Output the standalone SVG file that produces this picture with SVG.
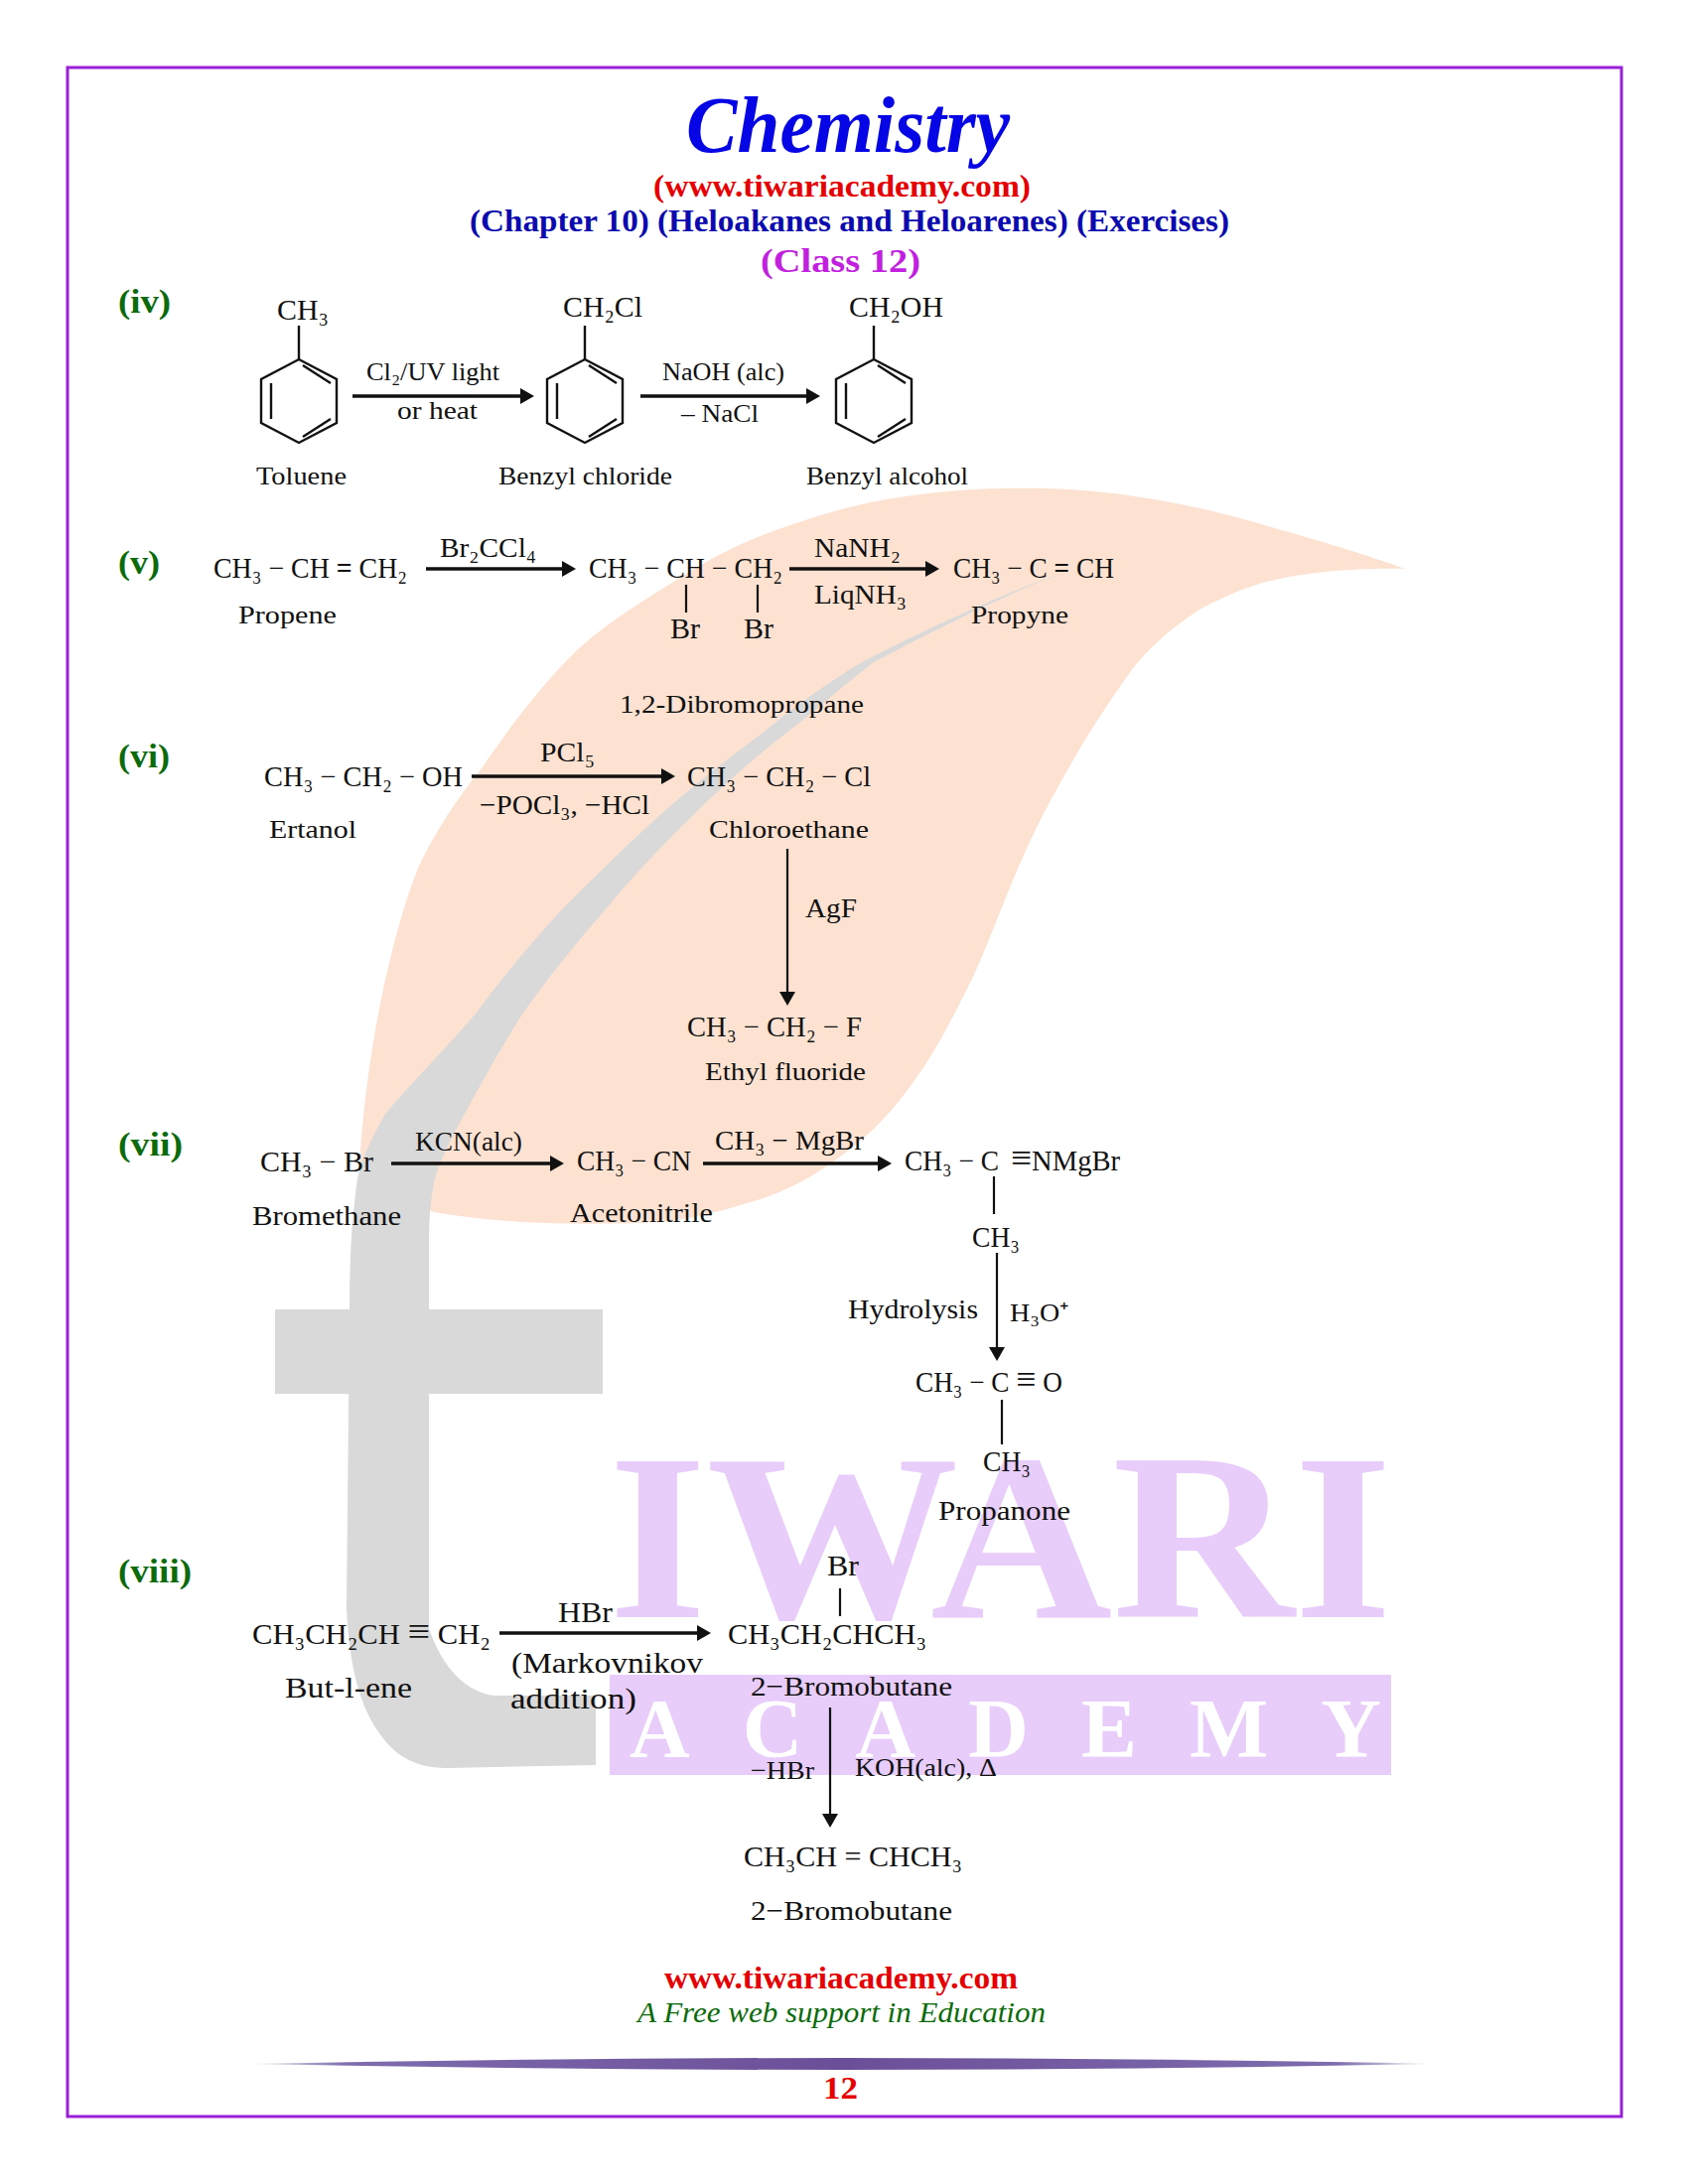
<svg xmlns="http://www.w3.org/2000/svg" width="1700" height="2200" viewBox="0 0 1700 2200">
<style>
text{font-family:"Liberation Serif","Times New Roman",serif;fill:#111}
.f{font-size:29px}
.l{font-size:26px}
.m{font-size:28px}
.sec{font-size:33px;font-weight:bold;fill:#0b6b0b}
.bond{stroke:#111;stroke-width:2.2;fill:none}
.ring{stroke:#111;stroke-width:2.4;fill:none;stroke-linejoin:miter}
.ah{stroke:#111;stroke-width:3.4;fill:none}
.av{stroke:#111;stroke-width:2.2;fill:none}
.wm{fill:#e8ccfa}
.tb{font-size:38px}
.db{font-weight:bold}
</style>
<defs>
<marker id="head" markerUnits="userSpaceOnUse" markerWidth="16" markerHeight="18" refX="6" refY="8" orient="auto"><path d="M0 0L14 8L0 16z" fill="#111"/></marker>
<linearGradient id="bar" x1="0" x2="1" y1="0" y2="0"><stop offset="0" stop-color="#8a7fa8" stop-opacity="0.2"/><stop offset="0.08" stop-color="#7f6cae"/><stop offset="0.5" stop-color="#6a4f98"/><stop offset="0.92" stop-color="#7f6cae"/><stop offset="1" stop-color="#8a7fa8" stop-opacity="0.2"/></linearGradient>
<g id="benzene"><path class="ring" d="M0 0L38 20V64L0 84L-38 64V20z"/><path class="ring" d="M4 6L32 24M-28 24V60M32 60L4 78M0 -34V0"/></g>
</defs>
<rect width="1700" height="2200" fill="#fff"/>
<g id="watermark">
<path d="M362 1178C365 1115 375 1050 384 1006C395 955 405 915 422 872C440 835 460 805 485 774C515 730 545 690 582 654C620 620 660 598 699 573C745 545 790 530 833 517C900 497 980 490 1055 492C1130 494 1210 510 1270 528C1330 545 1380 560 1415 573C1360 572 1310 577 1272 587C1245 595 1230 603 1210 613C1180 632 1160 650 1141 673C1125 695 1110 718 1096 740C1075 775 1055 810 1038 846C1015 895 1000 940 980 984C962 1020 945 1055 922 1087C900 1118 878 1142 849 1163C820 1185 790 1202 752 1212C715 1224 680 1231 640 1232C570 1234 500 1232 437 1221C410 1212 385 1198 362 1178z" fill="#fde2d2"/>
<path d="M1072 577C1030 590 950 625 868 667C830 690 800 712 767 739C725 770 690 798 657 828C625 857 595 887 565 917C535 950 505 985 480 1020C450 1055 415 1090 388 1122C375 1145 365 1165 360 1187C354 1230 352 1270 352 1320L349 1620C352 1680 362 1720 385 1750C400 1770 420 1781 450 1781L600 1778V1708H498C470 1705 445 1680 432 1640V1260C432 1230 433 1210 438 1187C445 1165 455 1145 468 1122C485 1090 505 1055 527 1020C552 985 580 950 609 917C635 885 662 857 691 828C722 797 755 767 791 739C820 717 850 690 880 667C950 630 1020 595 1072 577z" fill="#d9d9d9"/>
<rect x="277" y="1319" width="330" height="85" fill="#d9d9d9"/>
<text x="613" y="1629" font-size="240" font-weight="bold" textLength="789" lengthAdjust="spacingAndGlyphs" class="wm" style="fill:#e8ccfa">IWARI</text>
<rect class="wm" x="614" y="1687" width="787" height="101"/>
<text x="634" y="1770" font-size="84" font-weight="bold" textLength="757" lengthAdjust="spacing" style="fill:#fff">ACADEMY</text>
</g>
<rect id="border" x="68" y="68" width="1565" height="2064" fill="none" stroke="#9a1fd6" stroke-width="3"/>
<g id="header">
<text x="691" y="153" font-size="80" font-weight="bold" font-style="italic" textLength="326" lengthAdjust="spacingAndGlyphs" style="fill:#0505e6">Chemistry</text>
<text x="658" y="198" font-size="31" font-weight="bold" textLength="380" lengthAdjust="spacingAndGlyphs" style="fill:#e60000">(www.tiwariacademy.com)</text>
<text x="473" y="233" font-size="31" font-weight="bold" textLength="765" lengthAdjust="spacingAndGlyphs" style="fill:#0a0ab0">(Chapter 10) (Heloakanes and Heloarenes) (Exercises)</text>
<text x="766" y="274" font-size="34" font-weight="bold" textLength="161" lengthAdjust="spacingAndGlyphs" style="fill:#c21fe0">(Class 12)</text>
</g>
<g id="section-labels">
<text class="sec" x="119" y="315" textLength="53" lengthAdjust="spacingAndGlyphs">(iv)</text>
<text class="sec" x="119" y="578" textLength="42" lengthAdjust="spacingAndGlyphs">(v)</text>
<text class="sec" x="119" y="773" textLength="52" lengthAdjust="spacingAndGlyphs">(vi)</text>
<text class="sec" x="119" y="1164" textLength="65" lengthAdjust="spacingAndGlyphs">(vii)</text>
<text class="sec" x="119" y="1594" textLength="74" lengthAdjust="spacingAndGlyphs">(viii)</text>
</g>
<g id="connectors">
<path class="ah" marker-end="url(#head)" d="M355 399H530"/>
<path class="ah" marker-end="url(#head)" d="M645 399H818"/>
<path class="ah" marker-end="url(#head)" d="M429 573H572"/>
<path class="ah" marker-end="url(#head)" d="M795 573H938"/>
<path class="ah" marker-end="url(#head)" d="M475 782H672"/>
<path class="av" marker-end="url(#head)" d="M793 855V1005"/>
<path class="ah" marker-end="url(#head)" d="M394 1172H560"/>
<path class="ah" marker-end="url(#head)" d="M708 1172H890"/>
<path class="av" marker-end="url(#head)" d="M1004 1262V1363"/>
<path class="ah" marker-end="url(#head)" d="M503 1645H708"/>
<path class="av" marker-end="url(#head)" d="M836 1720V1833"/>
</g>
<g id="toluene"><use href="#benzene" x="301" y="362"/><text class="f" x="279" y="322" textLength="52" lengthAdjust="spacingAndGlyphs">CH₃</text><text class="l" x="258" y="488" textLength="91" lengthAdjust="spacingAndGlyphs">Toluene</text></g>
<g id="benzyl-chloride"><use href="#benzene" x="589" y="362"/><text class="f" x="567" y="319" textLength="80" lengthAdjust="spacingAndGlyphs">CH₂Cl</text><text class="l" x="502" y="488" textLength="175" lengthAdjust="spacingAndGlyphs">Benzyl chloride</text></g>
<g id="benzyl-alcohol"><use href="#benzene" x="880" y="362"/><text class="f" x="855" y="319" textLength="95" lengthAdjust="spacingAndGlyphs">CH₂OH</text><text class="l" x="812" y="488" textLength="163" lengthAdjust="spacingAndGlyphs">Benzyl alcohol</text></g>
<g id="iv-labels">
<text class="l" x="369" y="383" textLength="134" lengthAdjust="spacingAndGlyphs">Cl₂/UV light</text>
<text class="l" x="400" y="422" textLength="81" lengthAdjust="spacingAndGlyphs">or heat</text>
<text class="l" x="667" y="383" textLength="123" lengthAdjust="spacingAndGlyphs">NaOH (alc)</text>
<text class="l" x="686" y="425" textLength="78" lengthAdjust="spacingAndGlyphs">– NaCl</text>
</g>
<g id="propene"><text class="f" x="215" y="582" textLength="195" lengthAdjust="spacingAndGlyphs">CH₃ − CH <tspan class="db">=</tspan> CH₂</text><text class="l" x="240" y="628" textLength="99" lengthAdjust="spacingAndGlyphs">Propene</text></g>
<g id="dibromopropane"><text class="f" x="593" y="582" textLength="195" lengthAdjust="spacingAndGlyphs">CH₃ − CH − CH₂</text><path class="bond" d="M691 589V617M763 589V617"/><text class="f" x="675" y="643" textLength="30" lengthAdjust="spacingAndGlyphs">Br</text><text class="f" x="749" y="643" textLength="30" lengthAdjust="spacingAndGlyphs">Br</text><text class="l" x="624" y="718" textLength="246" lengthAdjust="spacingAndGlyphs">1,2-Dibromopropane</text></g>
<g id="propyne"><text class="f" x="960" y="582" textLength="162" lengthAdjust="spacingAndGlyphs">CH₃ − C <tspan class="db">=</tspan> CH</text><text class="l" x="978" y="628" textLength="98" lengthAdjust="spacingAndGlyphs">Propyne</text></g>
<g id="v-labels">
<text class="m" x="443" y="561" textLength="97" lengthAdjust="spacingAndGlyphs">Br₂CCl₄</text>
<text class="m" x="820" y="561" textLength="87" lengthAdjust="spacingAndGlyphs">NaNH₂</text>
<text class="m" x="820" y="608" textLength="93" lengthAdjust="spacingAndGlyphs">LiqNH₃</text>
</g>
<g id="ethanol"><text class="f" x="266" y="792" textLength="200" lengthAdjust="spacingAndGlyphs">CH₃ − CH₂ − OH</text><text class="l" x="271" y="844" textLength="88" lengthAdjust="spacingAndGlyphs">Ertanol</text></g>
<g id="chloroethane"><text class="f" x="692" y="792" textLength="185" lengthAdjust="spacingAndGlyphs">CH₃ − CH₂ − Cl</text><text class="l" x="714" y="844" textLength="161" lengthAdjust="spacingAndGlyphs">Chloroethane</text></g>
<g id="ethyl-fluoride"><text class="f" x="692" y="1044" textLength="176" lengthAdjust="spacingAndGlyphs">CH₃ − CH₂ − F</text><text class="l" x="710" y="1088" textLength="162" lengthAdjust="spacingAndGlyphs">Ethyl fluoride</text></g>
<g id="vi-labels">
<text class="m" x="544" y="767" textLength="55" lengthAdjust="spacingAndGlyphs">PCl₅</text>
<text class="m" x="483" y="820" textLength="171" lengthAdjust="spacingAndGlyphs">−POCl₃, −HCl</text>
<text class="m" x="811" y="924" textLength="52" lengthAdjust="spacingAndGlyphs">AgF</text>
</g>
<g id="bromomethane"><text class="f" x="262" y="1180" textLength="114" lengthAdjust="spacingAndGlyphs">CH₃ − Br</text><text class="m" x="254" y="1234" textLength="150" lengthAdjust="spacingAndGlyphs">Bromethane</text></g>
<g id="acetonitrile"><text class="f" x="581" y="1179" textLength="115" lengthAdjust="spacingAndGlyphs">CH₃ − CN</text><text class="m" x="574" y="1231" textLength="144" lengthAdjust="spacingAndGlyphs">Acetonitrile</text></g>
<g id="imine-salt"><text class="f" x="911" y="1179" textLength="95" lengthAdjust="spacingAndGlyphs">CH₃ − C</text><text class="f" x="1018" y="1179" textLength="110" lengthAdjust="spacingAndGlyphs"><tspan class="tb">≡</tspan>NMgBr</text><path class="bond" d="M1001 1185V1223"/><text class="f" x="979" y="1256" textLength="48" lengthAdjust="spacingAndGlyphs">CH₃</text></g>
<g id="propanone"><text class="f" x="922" y="1402" textLength="148" lengthAdjust="spacingAndGlyphs">CH₃ − C <tspan class="tb">≡</tspan> O</text><path class="bond" d="M1009 1410V1455"/><text class="f" x="990" y="1482" textLength="48" lengthAdjust="spacingAndGlyphs">CH₃</text><text class="m" x="945" y="1531" textLength="133" lengthAdjust="spacingAndGlyphs">Propanone</text></g>
<g id="vii-labels">
<text class="m" x="418" y="1159" textLength="108" lengthAdjust="spacingAndGlyphs">KCN(alc)</text>
<text class="m" x="720" y="1158" textLength="150" lengthAdjust="spacingAndGlyphs">CH₃ − MgBr</text>
<text class="m" x="854" y="1328" textLength="131" lengthAdjust="spacingAndGlyphs">Hydrolysis</text>
<text class="l" x="1017" y="1331" textLength="60" lengthAdjust="spacingAndGlyphs">H₃O⁺</text>
</g>
<g id="butene"><text class="f" x="254" y="1656" textLength="240" lengthAdjust="spacingAndGlyphs">CH₃CH₂CH <tspan class="tb">≡</tspan> CH₂</text><text class="f" x="287" y="1710" textLength="128" lengthAdjust="spacingAndGlyphs">But-l-ene</text></g>
<g id="bromobutane"><text class="f" x="833" y="1587" textLength="32" lengthAdjust="spacingAndGlyphs">Br</text><path class="bond" d="M846 1600V1628"/><text class="f" x="733" y="1656" textLength="200" lengthAdjust="spacingAndGlyphs">CH₃CH₂CHCH₃</text><text class="m" x="756" y="1708" textLength="203" lengthAdjust="spacingAndGlyphs">2−Bromobutane</text></g>
<g id="butene-2"><text class="f" x="749" y="1880" textLength="220" lengthAdjust="spacingAndGlyphs">CH₃CH = CHCH₃</text><text class="m" x="756" y="1934" textLength="203" lengthAdjust="spacingAndGlyphs">2−Bromobutane</text></g>
<g id="viii-labels">
<text class="f" x="562" y="1634" textLength="55" lengthAdjust="spacingAndGlyphs">HBr</text>
<text class="f" x="515" y="1685" textLength="193" lengthAdjust="spacingAndGlyphs">(Markovnikov</text>
<text class="f" x="514" y="1721" textLength="127" lengthAdjust="spacingAndGlyphs">addition)</text>
<text class="l" x="756" y="1792" textLength="64" lengthAdjust="spacingAndGlyphs">−HBr</text>
<text class="l" x="861" y="1789" textLength="143" lengthAdjust="spacingAndGlyphs">KOH(alc), Δ</text>
</g>
<g id="footer">
<text x="669" y="2003" font-size="31" font-weight="bold" textLength="356" lengthAdjust="spacingAndGlyphs" style="fill:#e60000">www.tiwariacademy.com</text>
<text x="642" y="2037" font-size="30" font-style="italic" textLength="411" lengthAdjust="spacingAndGlyphs" style="fill:#0b6b0b">A Free web support in Education</text>
<path d="M252 2079Q850 2067 1442 2079Q850 2091 252 2079z" fill="url(#bar)"/>
<text x="829" y="2114" font-size="31" font-weight="bold" textLength="35" lengthAdjust="spacingAndGlyphs" style="fill:#e60000">12</text>
</g>
</svg>
